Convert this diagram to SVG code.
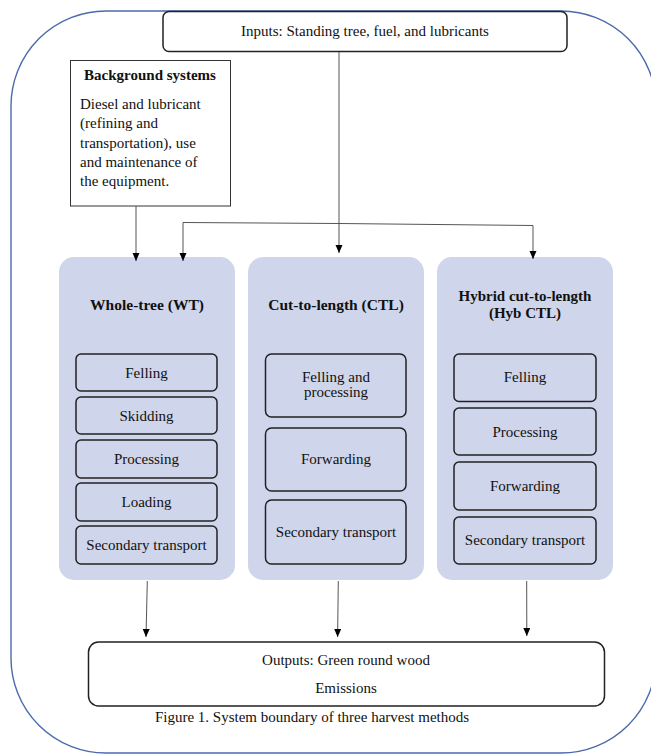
<svg xmlns="http://www.w3.org/2000/svg" width="651" height="754" viewBox="0 0 651 754">
<defs>
<marker id="ah" markerUnits="userSpaceOnUse" markerWidth="8" markerHeight="8" refX="8" refY="3.5" orient="auto">
<path d="M0,0 L8,3.5 L0,7 z" fill="#000"/>
</marker>
<style>
text{font-family:"Liberation Serif","Times New Roman",serif;font-size:15px;fill:#111}
.b{font-weight:bold}
.c{text-anchor:middle}
.box{fill:#fff;stroke:#222;stroke-width:1.5}
.lane{fill:#cfd5ea;stroke:none}
.sub{fill:none;stroke:#222;stroke-width:1.5}
.con{fill:none;stroke:#555;stroke-width:1}
</style>
</defs>
<rect width="651" height="754" fill="#fff"/>
<rect id="boundary" x="11" y="11" width="645" height="742" rx="95" ry="95" fill="none" stroke="#4a6bab" stroke-width="1.4"/>

<g id="inputs">
<rect class="box" x="163" y="11.5" width="404" height="40" rx="6"/>
<text class="c" x="365" y="36">Inputs: Standing tree, fuel, and lubricants</text>
</g>

<g id="background">
<rect x="70.5" y="60.5" width="160" height="145.5" fill="#fff" stroke="#333" stroke-width="1"/>
<text class="b c" x="150" y="80">Background systems</text>
<text x="80" y="109">Diesel and lubricant</text>
<text x="80" y="128">(refining and</text>
<text x="80" y="148">transportation), use</text>
<text x="80" y="167">and maintenance of</text>
<text x="80" y="186">the equipment.</text>
</g>

<g id="wt">
<rect class="lane" x="59" y="257" width="176" height="323" rx="15"/>
<text class="b c" x="147" y="310" style="font-size:15.5px">Whole-tree (WT)</text>
<rect class="sub" x="76" y="354" width="141" height="37" rx="5"/>
<text class="c" x="146.5" y="378">Felling</text>
<rect class="sub" x="76" y="397" width="141" height="37" rx="5"/>
<text class="c" x="146.5" y="421">Skidding</text>
<rect class="sub" x="76" y="440" width="141" height="38" rx="5"/>
<text class="c" x="146.5" y="464">Processing</text>
<rect class="sub" x="76" y="483" width="141" height="38" rx="5"/>
<text class="c" x="146.5" y="507">Loading</text>
<rect class="sub" x="76" y="526" width="141" height="38" rx="5"/>
<text class="c" x="146.5" y="550">Secondary transport</text>
</g>

<g id="ctl">
<rect class="lane" x="248" y="257" width="176" height="323" rx="15"/>
<text class="b c" x="336" y="310" style="font-size:15.5px">Cut-to-length (CTL)</text>
<rect class="sub" x="265.5" y="354" width="140.5" height="63" rx="6"/>
<text class="c" x="336" y="382">Felling and</text>
<text class="c" x="336" y="397">processing</text>
<rect class="sub" x="265.5" y="428" width="140.5" height="63" rx="6"/>
<text class="c" x="336" y="464">Forwarding</text>
<rect class="sub" x="265.5" y="500" width="140.5" height="64" rx="6"/>
<text class="c" x="336" y="537">Secondary transport</text>
</g>

<g id="hyb">
<rect class="lane" x="437" y="257" width="176" height="323" rx="15"/>
<text class="b c" x="525" y="301">Hybrid cut-to-length</text>
<text class="b c" x="525" y="318">(Hyb CTL)</text>
<rect class="sub" x="454" y="354" width="142" height="47.5" rx="5"/>
<text class="c" x="525" y="382">Felling</text>
<rect class="sub" x="454" y="408" width="142" height="47" rx="5"/>
<text class="c" x="525" y="437">Processing</text>
<rect class="sub" x="454" y="462" width="142" height="48" rx="5"/>
<text class="c" x="525" y="491">Forwarding</text>
<rect class="sub" x="454" y="517" width="142" height="47" rx="5"/>
<text class="c" x="525" y="545">Secondary transport</text>
</g>

<g id="outputs">
<rect class="box" x="88.5" y="642" width="516" height="64" rx="10"/>
<text class="c" x="346" y="665">Outputs: Green round wood</text>
<text class="c" x="346" y="693">Emissions</text>
</g>

<text id="caption" class="c" x="312" y="722">Figure 1. System boundary of three harvest methods</text>

<g id="connectors">
<path class="con" d="M136,206 L136,261" marker-end="url(#ah)"/>
<path class="con" d="M339,52 L339,253" marker-end="url(#ah)"/>
<path class="con" d="M339,223.5 L183,222.5 L183,261" marker-end="url(#ah)"/>
<path class="con" d="M339,223.5 L533,225.5 L533,259" marker-end="url(#ah)"/>
<path class="con" d="M147.3,581 L146,637" marker-end="url(#ah)"/>
<path class="con" d="M338.3,581 L337.6,637" marker-end="url(#ah)"/>
<path class="con" d="M526.7,581 L526.8,636" marker-end="url(#ah)"/>
</g>
</svg>
